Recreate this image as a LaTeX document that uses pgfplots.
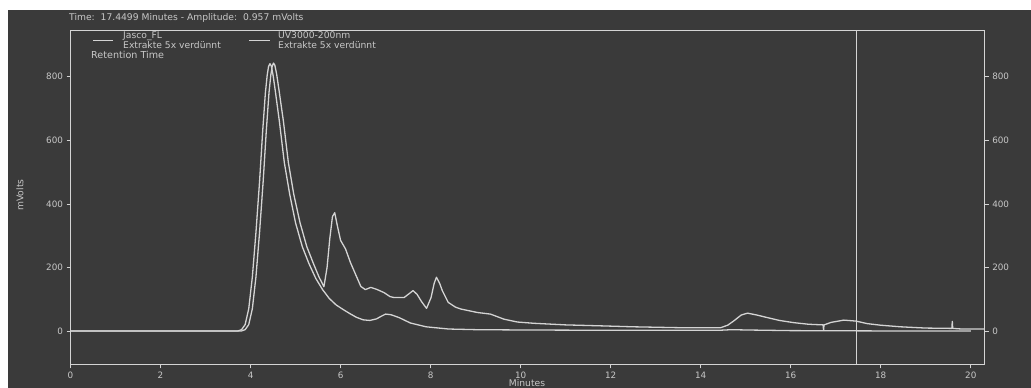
\documentclass[border=0pt]{standalone}
\usepackage{pgfplots}
\pgfplotsset{compat=1.18}
\usepackage{fontspec}
\setmainfont{DejaVu Sans}
\definecolor{bg}{RGB}{58,58,58}
\definecolor{fg}{RGB}{212,212,212}
\definecolor{tx}{RGB}{200,200,200}

\pgfplotstableread{
x y
0 0
3.72 0
3.80 4
3.88 20
3.96 70
4.04 170
4.12 310
4.20 470
4.27 630
4.33 750
4.37 805
4.40 832
4.43 841
4.46 834
4.50 805
4.55 755
4.64 660
4.75 530
4.87 430
5.00 340
5.15 265
5.30 211
5.45 165
5.60 130
5.75 102
5.90 82
6.05 68
6.20 55
6.35 43
6.50 35
6.65 33
6.80 38
6.90 46
7.00 53
7.12 51
7.30 42
7.55 25
7.90 13
8.40 6
9.00 4
10.0 3
12.0 2
14.4 2
14.7 4
15.0 3
16.0 1
18.0 0
20.0 0
}\fltable

\pgfplotstableread{
x y
0 0
3.80 0
3.88 4
3.96 20
4.04 70
4.12 170
4.20 310
4.28 470
4.35 630
4.41 750
4.45 805
4.48 832
4.51 843
4.54 836
4.58 808
4.63 760
4.73 660
4.84 530
4.96 430
5.10 340
5.25 265
5.40 211
5.52 170
5.63 139
5.70 200
5.76 290
5.82 360
5.87 372
5.93 330
6.00 285
6.11 258
6.22 215
6.33 179
6.45 140
6.55 130
6.67 137
6.80 131
6.96 121
7.10 108
7.19 105
7.41 105
7.53 118
7.61 127
7.70 115
7.80 92
7.91 71
8.01 105
8.08 150
8.13 169
8.20 150
8.26 127
8.39 90
8.55 75
8.67 69
9.04 58
9.33 53
9.63 37
9.93 28
10.3 24
11.0 19
11.78 16
12.5 13
13.6 10
14.44 10
14.60 18
14.74 32
14.90 50
15.04 56
15.25 50
15.48 42
15.75 33
16.07 26
16.40 21
16.72 19
16.73 2
16.74 19
16.90 27
17.18 34
17.45 31
17.70 23
18.00 18
18.44 13
19.00 9
19.58 8
19.59 30
19.60 8
19.80 6
20.31 6
}\uvtable

\begin{document}
\begin{tikzpicture}[x=1pt,y=1pt]
\path[use as bounding box] (0,0) rectangle (1031,388);
\fill[white] (0,0) rectangle (1031,388);
\fill[bg] (8,0) rectangle (1031,378);
\begin{axis}[
  at={(70.5pt,23.7pt)}, anchor=south west,
  scale only axis, width=914.2pt, height=334.3pt,
  xmin=0, xmax=20.31, ymin=-105, ymax=947,
  axis line style={fg, line width=0.8pt},
  tick style={fg, line width=0.6pt},
  tick align=outside, major tick length=4pt,
  xtick={0,2,...,20}, ytick={0,200,...,800},
  xtick pos=bottom, ytick pos=left,
  ticklabel style={font=\fontsize{8.8}{10}\selectfont, text=tx},
  /pgf/number format/assume math mode=true,
  clip=true,
]
\addplot[fg, line width=1.3pt, line join=round] table {\fltable};
\addplot[fg, line width=1.3pt, line join=round] table {\uvtable};
\addplot[fg, line width=0.7pt] coordinates {(17.45,-105) (17.45,947)};
\end{axis}
\begin{axis}[
  at={(70.5pt,23.7pt)}, anchor=south west,
  scale only axis, width=914.2pt, height=334.3pt,
  xmin=0, xmax=20.31, ymin=-105, ymax=947,
  axis x line=none, axis y line*=right,
  axis line style={fg, line width=0.8pt, -},
  tick style={fg, line width=0.6pt},
  tick align=outside, major tick length=4pt,
  ytick={0,200,...,800},
  ticklabel style={font=\fontsize{8.8}{10}\selectfont, text=tx},
  /pgf/number format/assume math mode=true,
]
\end{axis}
\begin{scope}[every node/.style={inner sep=0pt, text=tx, font=\fontsize{9.2}{10}\selectfont}]
\node[anchor=base west] at (69,367.8) {Time:\ \ 17.4499 Minutes - Amplitude:\ \ 0.957 mVolts};
\draw[fg, line width=1pt] (93,347.3) -- (113,347.3);
\node[anchor=base west] at (123,349.2) {Jasco\_FL};
\node[anchor=base west] at (123,339.8) {Extrakte 5x verdünnt};
\node[anchor=base west, font=\fontsize{9.6}{10}\selectfont] at (91,329) {Retention Time};
\draw[fg, line width=1pt] (249,347.3) -- (270,347.3);
\node[anchor=base west] at (278,349.2) {UV3000-200nm};
\node[anchor=base west] at (278,339.8) {Extrakte 5x verdünnt};
\node[anchor=south] at (527,0.8) {Minutes};
\node[rotate=90] at (20,193) {mVolts};
\end{scope}
\end{tikzpicture}
\end{document}
